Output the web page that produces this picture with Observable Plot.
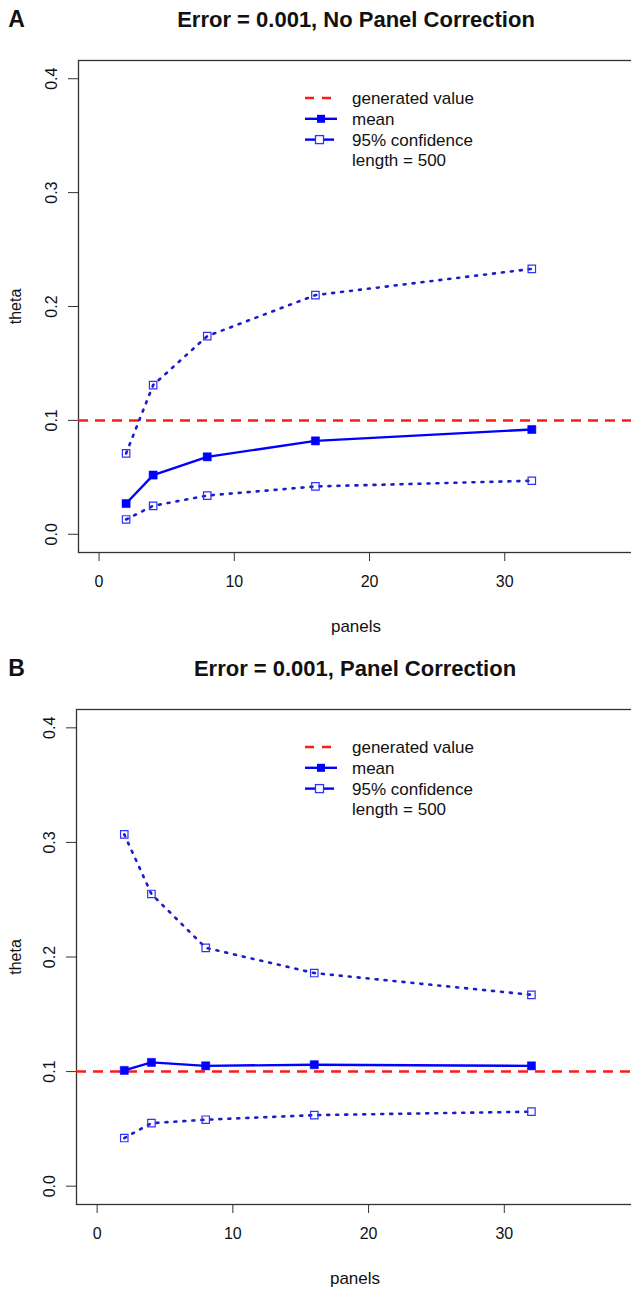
<!DOCTYPE html>
<html>
<head>
<meta charset="utf-8">
<script src="https://cdn.jsdelivr.net/npm/d3@7"></script>
<script src="https://cdn.jsdelivr.net/npm/@observablehq/plot@0.6"></script>
<style>
  html, body { margin: 0; padding: 0; background: white; overflow: hidden; }
  #root { width: 631px; }
  svg { overflow: hidden !important; }
</style>
</head>
<body>
<div id="root"></div>
<script>
// ---- data ----
const panels = [2, 4, 8, 16, 32];
const generatedValue = 0.1;

const meanA  = [0.027, 0.052, 0.068, 0.082, 0.092];
const upperA = [0.071, 0.131, 0.174, 0.210, 0.233];
const lowerA = [0.013, 0.025, 0.034, 0.042, 0.047];

const meanB  = [0.101, 0.108, 0.105, 0.106, 0.105];
const upperB = [0.307, 0.255, 0.208, 0.186, 0.167];
const lowerB = [0.042, 0.055, 0.058, 0.062, 0.065];

const xTicks = [0, 10, 20, 30];
const yTicks = [0.0, 0.1, 0.2, 0.3, 0.4];
const legendLabels = ["generated value", "mean", "95% confidence", "length = 500"];
const titleA = "Error = 0.001, No Panel Correction";
const titleB = "Error = 0.001, Panel Correction";

const FONT = "'Liberation Sans', Arial, Helvetica, sans-serif";
const BLUE = "#0000ff";
const DOT_BLUE = "#1c1cc8";

function makePanel({letter, title, mean, upper, lower, height, marginTop, marginLeft, marginBottom, titleY}) {
  const rows = panels.map((p, i) => ({panels: p, mean: mean[i], upper: upper[i], lower: lower[i]}));
  const svg = Plot.plot({
    width: 631,
    height,
    marginTop,
    marginLeft,
    marginRight: -2,
    marginBottom,
    style: {fontFamily: FONT, fontSize: "16px", color: "#111", background: "white", overflow: "hidden"},
    x: {domain: [-1.52, 39.52]},
    y: {domain: [-0.016, 0.416]},
    marks: [
      Plot.frame({stroke: "#333", strokeWidth: 1.3}),
      Plot.axisX({ticks: xTicks, tickSize: 9, tickPadding: 14, label: null, fontSize: 16, stroke: "#333", tickFormat: d => String(d)}),
      Plot.axisY({ticks: yTicks, tickSize: 10, tickPadding: 12, tickRotate: -90, label: null, fontSize: 16, stroke: "#333", tickFormat: d3.format(".1f")}),
      Plot.ruleY([generatedValue], {stroke: "#ff1a1a", strokeWidth: 2.5, strokeDasharray: "10,7"}),
      Plot.line(rows, {x: "panels", y: "upper", stroke: DOT_BLUE, strokeWidth: 2.6, strokeDasharray: "2,7"}),
      Plot.line(rows, {x: "panels", y: "lower", stroke: DOT_BLUE, strokeWidth: 2.6, strokeDasharray: "2,7"}),
      Plot.dot(rows, {x: "panels", y: "upper", symbol: "square", r: 4.2, stroke: "#3030ff", strokeWidth: 1.2, fill: "none"}),
      Plot.dot(rows, {x: "panels", y: "lower", symbol: "square", r: 4.2, stroke: "#3030ff", strokeWidth: 1.2, fill: "none"}),
      Plot.line(rows, {x: "panels", y: "mean", stroke: BLUE, strokeWidth: 2.4}),
      Plot.dot(rows, {x: "panels", y: "mean", symbol: "square", r: 4.6, fill: BLUE, stroke: BLUE, strokeWidth: 0.5}),
      Plot.text([title], {frameAnchor: "top", lineAnchor: "middle", dy: -(marginTop - titleY), fontSize: 22, fontWeight: "bold", fill: "#111"}),
      Plot.text([letter], {frameAnchor: "top-left", lineAnchor: "middle", dx: -(marginLeft - 16), dy: -(marginTop - titleY), fontSize: 23, fontWeight: "bold", fill: "#111", textAnchor: "middle"}),
      Plot.text(["theta"], {frameAnchor: "left", textAnchor: "middle", lineAnchor: "middle", dx: -(marginLeft - 15), rotate: -90, fontSize: 16, fill: "#111"}),
      Plot.text(["panels"], {frameAnchor: "bottom", lineAnchor: "middle", dy: 74, fontSize: 17, fill: "#111"})
    ]
  });

  // legend (inside the plot area, upper middle)
  const g = d3.select(svg).append("g").attr("font-family", FONT).attr("font-size", 17)
    .attr("fill", "#111").attr("text-anchor", "start");
  const y0 = marginTop + 38, dy = 20.8, x0 = 305, x1 = 334, tx = 352;
  const rowY = i => y0 + i * dy;
  // generated value
  g.append("line").attr("x1", x0).attr("x2", x1).attr("y1", rowY(0)).attr("y2", rowY(0))
    .attr("stroke", "#ff1a1a").attr("stroke-width", 2.5).attr("stroke-dasharray", "9,8");
  // mean
  g.append("line").attr("x1", x0).attr("x2", x1 + 3).attr("y1", rowY(1)).attr("y2", rowY(1))
    .attr("stroke", BLUE).attr("stroke-width", 2.4);
  g.append("rect").attr("x", (x0 + x1 + 3) / 2 - 4).attr("y", rowY(1) - 4).attr("width", 8).attr("height", 8).attr("fill", BLUE);
  // 95% confidence
  g.append("line").attr("x1", x0).attr("x2", x1).attr("y1", rowY(2)).attr("y2", rowY(2))
    .attr("stroke", BLUE).attr("stroke-width", 2.4);
  g.append("rect").attr("x", (x0 + x1) / 2 - 4).attr("y", rowY(2) - 4).attr("width", 8).attr("height", 8)
    .attr("fill", "white").attr("stroke", "#3030ff").attr("stroke-width", 1.3);
  legendLabels.forEach((t, i) => {
    g.append("text").attr("x", tx).attr("y", rowY(i)).attr("dy", "0.35em").attr("text-anchor", "start").text(t);
  });
  return svg;
}

const root = document.getElementById("root");
root.appendChild(makePanel({letter: "A", title: titleA, mean: meanA, upper: upperA, lower: lowerA,
  height: 645, marginTop: 60, marginLeft: 78, marginBottom: 93, titleY: 19}));
root.appendChild(makePanel({letter: "B", title: titleB, mean: meanB, upper: upperB, lower: lowerB,
  height: 644, marginTop: 64, marginLeft: 76, marginBottom: 85, titleY: 23}));
</script>
</body>
</html>
